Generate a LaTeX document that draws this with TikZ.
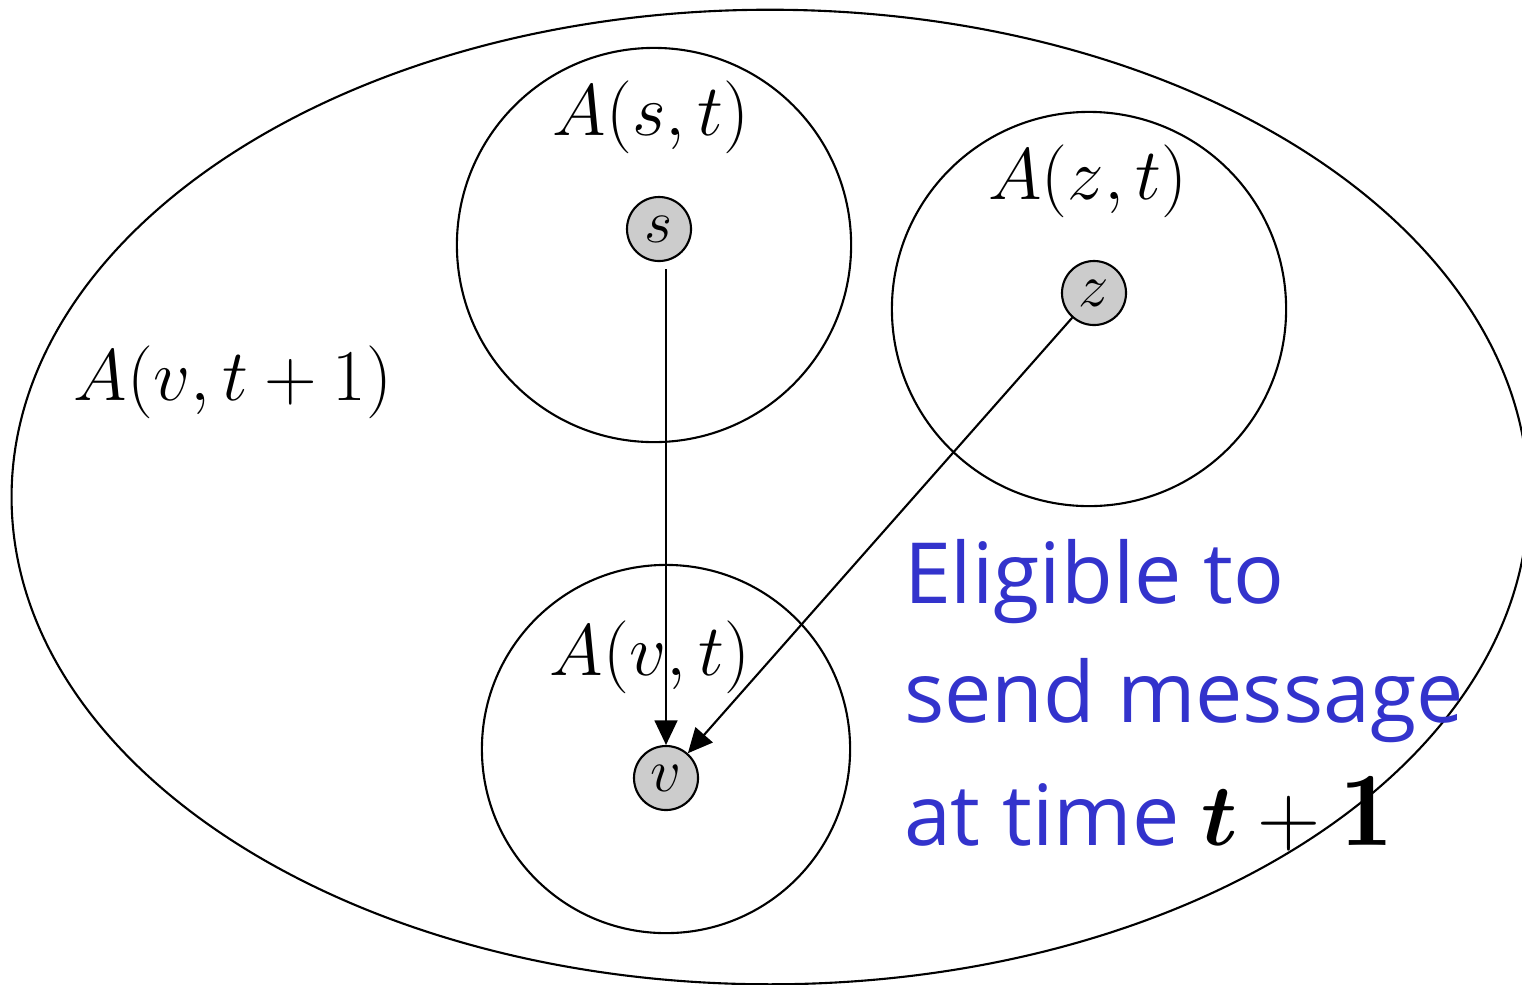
\documentclass[tikz,border=0pt]{standalone}
\usepackage{amsmath,amssymb,bm}
\usepackage{fontspec}
\newfontfamily\msgfont{Open Sans}
\usepackage{tikz}
\usetikzlibrary{positioning,arrows.meta}
\definecolor{msgblue}{RGB}{51,51,204}
\definecolor{vertgray}{RGB}{204,204,204}

\begin{document}
\begin{tikzpicture}[x=0.01cm,y=-0.01cm,line width=0.6pt,
  region/.style={draw,circle,inner sep=0pt,minimum size=3.94cm},
  vert/.style={draw,circle,fill=vertgray,inner sep=0pt,minimum size=0.64cm,
    font=\fontsize{18}{20}\selectfont},
  setlbl/.style={anchor=base,font=\fontsize{22}{26}\selectfont},
  msg/.style={anchor=base west,inner sep=0pt,text=msgblue,
    font=\msgfont\fontsize{24}{29}\selectfont},
  edge/.style={-{Triangle[length=7pt,width=6.5pt]}}]
  \useasboundingbox (0,0) rectangle (1522,984);
  \clip (0,0) rectangle (1522,984);
  % outer set A(v,t+1)
  \draw (770,497) ellipse [x radius=7.58cm, y radius=4.87cm];
  \node[setlbl,font=\fontsize{20}{24}\selectfont] (Avt1) at (233,400) {$A(v,t+1)$};
  % inner sets
  \node[region] (Ast) at (654,245) {};
  \node[region] (Azt) at (1089,309) {};
  \node[region,minimum size=3.68cm] (Avt) at (666,749) {};
  \node[setlbl] (Ast lbl) at (651,135) {$A(s,t)$};
  \node[setlbl] (Azt lbl) at (1088,199) {$A(z,t)$};
  \node[setlbl] (Avt lbl) at (650,675) {$A(v,t)$};
  % vertices
  \node[vert] (s) at (659,229) {$s$};
  \node[vert] (z) at (1094,293) {$z$};
  \node[vert] (v) at (666,778) {$v$};
  \draw[edge,shorten <=0.7mm] (s.south -| v) -- (v.north);
  \draw[edge] (z) -- (v);
  % note
  \node[msg] (msg1) at (903,603) {Eligible to};
  \node[msg] (msg2) at (903,722) {send message};
  \node[msg] (msg3) at (903,845) {at time};
  \node[anchor=base west,inner sep=0pt,font=\fontsize{30}{34}\selectfont]
    (tplus) at ([xshift=2mm]msg3.base east) {$\bm{t}+\mathbf{1}$};
\end{tikzpicture}
\end{document}
